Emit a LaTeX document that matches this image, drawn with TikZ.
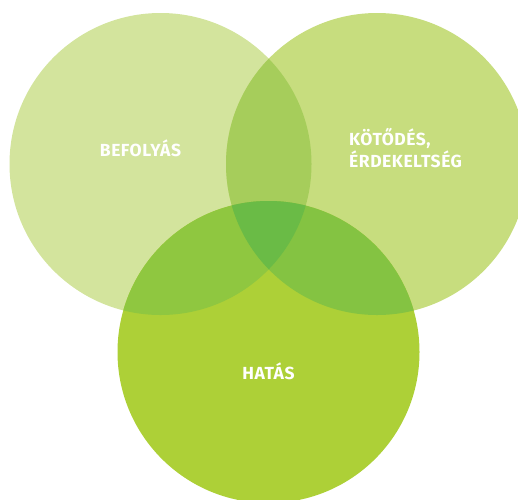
\documentclass[tikz,border=0pt]{standalone}
\usepackage{fontspec}
\setmainfont{Fira Sans}[LetterSpace=3]
\definecolor{cA}{HTML}{D3E49D}
\definecolor{cB}{HTML}{C7DD7E}
\definecolor{cC}{HTML}{ADD037}
\definecolor{cAB}{HTML}{A6CD5B}
\definecolor{cAC}{HTML}{8FC740}
\definecolor{cBC}{HTML}{84C342}
\definecolor{cABC}{HTML}{6ABB46}
\begin{document}
\begin{tikzpicture}[x=1pt,y=-1pt,
  lbl/.style={text=white,font=\fontsize{17.5}{22}\selectfont\bfseries,inner sep=0pt}]
\useasboundingbox (0,0) rectangle (518,499);
\def\rr{151}
\coordinate (A) at (160.5,164);
\coordinate (B) at (377,164);
\coordinate (C) at (268.5,352);
\fill[cA] (A) circle (\rr);
\fill[cB] (B) circle (\rr);
\fill[cC] (C) circle (\rr);
\begin{scope}\clip (A) circle (\rr); \fill[cAB] (B) circle (\rr);\end{scope}
\begin{scope}\clip (A) circle (\rr); \fill[cAC] (C) circle (\rr);\end{scope}
\begin{scope}\clip (B) circle (\rr); \fill[cBC] (C) circle (\rr);\end{scope}
\begin{scope}\clip (A) circle (\rr); \clip (B) circle (\rr); \fill[cABC] (C) circle (\rr);\end{scope}
\node[lbl] (tA) at (140.5,148.5) {BEFOLYÁS};
\node[lbl,align=left,anchor=base west] (tB) at (349,167) {KÖTŐDÉS,\\ÉRDEKELTSÉG};
\node[lbl] (tC) at (268.5,371) {HATÁS};
\end{tikzpicture}
\end{document}
